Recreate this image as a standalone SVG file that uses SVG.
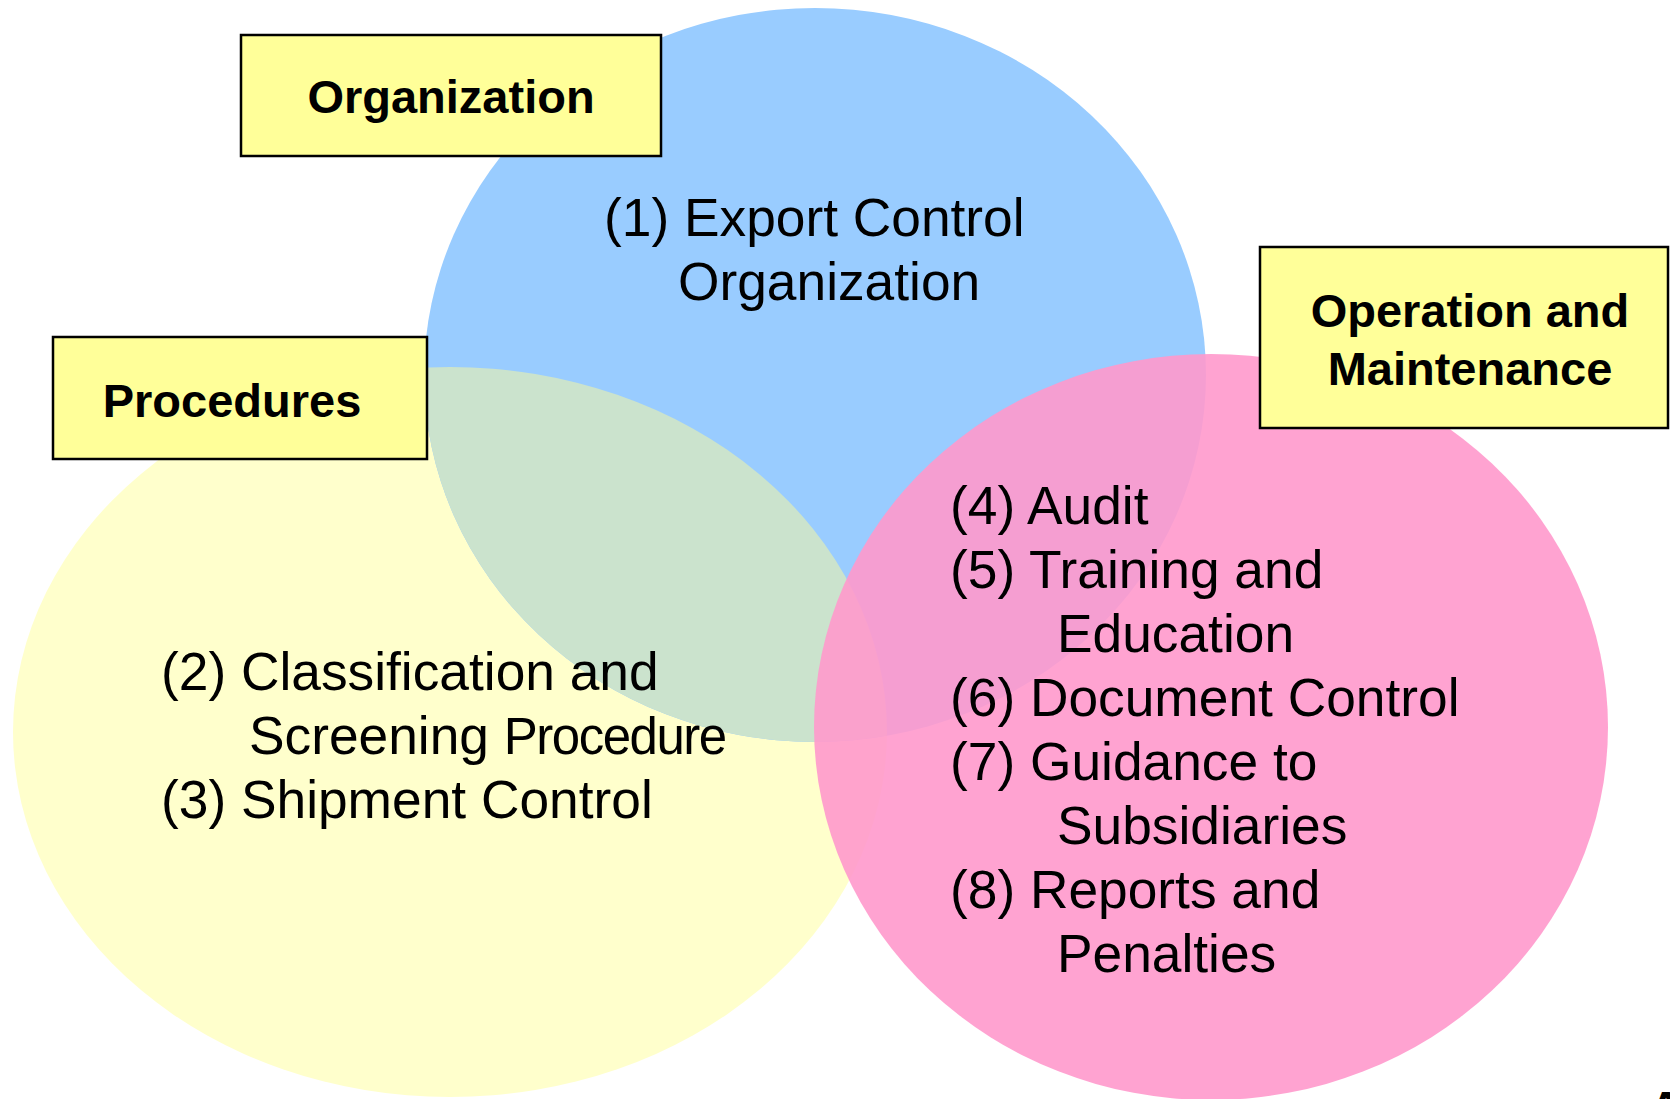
<svg xmlns="http://www.w3.org/2000/svg" width="1670" height="1099" viewBox="0 0 1670 1099">
  <style>
    .body { font-family: "Liberation Sans", Arial, sans-serif; font-size: 53.3px; fill: #000; }
    .tight { font-size: 51px; letter-spacing: -1.5px; }
    .head { font-family: "Liberation Sans", Arial, sans-serif; font-size: 47px; font-weight: bold; fill: #000; text-anchor: middle; }
    .tag { fill: #FFFF99; stroke: #000; stroke-width: 2.5; }
  </style>
  <defs>
    <clipPath id="clip-procedures">
      <ellipse cx="450" cy="732" rx="437" ry="365"/>
    </clipPath>
  </defs>
  <rect width="1670" height="1099" fill="#fff"/>

  <!-- Procedures set -->
  <g id="set-procedures">
    <ellipse cx="450" cy="732" rx="437" ry="365" fill="#FFFFCC"/>
  </g>

  <!-- Organization set, with its overlap on Procedures -->
  <g id="set-organization">
    <ellipse cx="815" cy="375" rx="391" ry="367" fill="#99CCFF"/>
    <ellipse cx="815" cy="375" rx="391" ry="367" fill="#CBE3CD" clip-path="url(#clip-procedures)"/>
  </g>

  <!-- Operation and Maintenance set -->
  <g id="set-operation">
    <ellipse cx="1211" cy="727" rx="397" ry="373" fill="#FF99CC" fill-opacity="0.9"/>
  </g>

  <g id="connectors"/>

  <!-- Set contents -->
  <g id="items-organization">
    <text class="body" x="604" y="236">(1) Export Control</text>
    <text class="body" x="678" y="300">Organization</text>
  </g>
  <g id="items-procedures">
    <text class="body" x="161" y="690">(2) Classification and</text>
    <text class="body" x="249" y="754">Screening <tspan class="tight">Procedure</tspan></text>
    <text class="body" x="161" y="818">(3) Shipment Control</text>
  </g>
  <g id="items-operation">
    <text class="body" x="950" y="524">(4) Audit</text>
    <text class="body" x="950" y="588">(5) Training and</text>
    <text class="body" x="1057" y="652">Education</text>
    <text class="body" x="950" y="716">(6) Document Control</text>
    <text class="body" x="950" y="780">(7) Guidance to</text>
    <text class="body" x="1057" y="844">Subsidiaries</text>
    <text class="body" x="950" y="908">(8) Reports and</text>
    <text class="body" x="1057" y="972">Penalties</text>
  </g>

  <!-- Set labels -->
  <g id="label-organization">
    <rect class="tag" x="241" y="35" width="420" height="121"/>
    <text class="head" x="451" y="113">Organization</text>
  </g>
  <g id="label-procedures">
    <rect class="tag" x="53" y="337" width="374" height="122"/>
    <text class="head" x="232" y="417">Procedures</text>
  </g>
  <g id="label-operation">
    <rect class="tag" x="1260" y="247" width="408" height="181"/>
    <text class="head" x="1470" y="327">Operation and</text>
    <text class="head" x="1470" y="385">Maintenance</text>
  </g>

  <!-- glyph running off the lower right corner -->
  <text class="head" x="1666" y="1124">A</text>
</svg>
